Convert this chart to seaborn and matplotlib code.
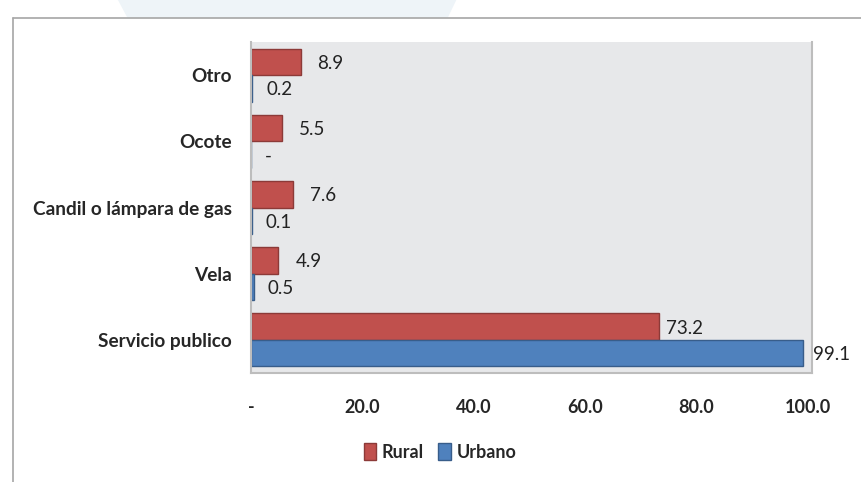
import matplotlib
matplotlib.use("Agg")
import matplotlib.pyplot as plt
import seaborn as sns
import pandas as pd
from matplotlib.patches import Rectangle, Polygon

# data
categories = ["Otro", "Ocote", "Candil o lámpara de gas", "Vela", "Servicio publico"]
rural = [8.9, 5.5, 7.6, 4.9, 73.2]
urbano = [0.2, 0.0, 0.1, 0.5, 99.1]
series = ["Rural", "Urbano"]
x_ticks = [0, 20, 40, 60, 80, 100]
x_tick_labels = ["-", "20.0", "40.0", "60.0", "80.0", "100.0"]

colors = {"Rural": "#C0504D", "Urbano": "#4F81BD"}
edges = {"Rural": "#8C3A38", "Urbano": "#385D8A"}

df = pd.DataFrame({
    "categoria": categories * 2,
    "serie": ["Rural"] * len(categories) + ["Urbano"] * len(categories),
    "valor": rural + urbano,
})

sns.set_style("white")
plt.rcParams["font.family"] = ["Lato", "DejaVu Sans"]

fig = plt.figure(figsize=(8.61, 4.82), dpi=100)
ax = fig.add_axes([0.2915, 0.226, 0.652, 0.687])

sns.barplot(data=df, y="categoria", x="valor", hue="serie", order=categories,
            hue_order=series, palette=colors, orient="h", width=0.8,
            saturation=1, legend=False, ax=ax)

for cont, name in zip(ax.containers, series):
    for bar in cont:
        bar.set_edgecolor(edges[name])
        bar.set_linewidth(1.0)

# data labels
label_offsets = {"Rural": [17, 17, 17, 17, 7], "Urbano": [14, 14, 14, 14, 10]}
for cont, name in zip(ax.containers, series):
    vals = rural if name == "Rural" else urbano
    for bar, v, off in zip(cont, vals, label_offsets[name]):
        txt = "-" if v == 0 else f"{v:.1f}"
        ax.annotate(txt, (bar.get_width(), bar.get_y() + bar.get_height() / 2),
                    xytext=(off * 0.72, -1), textcoords="offset points",
                    ha="left", va="center", fontsize=13.5, color="#222222",
                    annotation_clip=False)

ax.set_facecolor("#E7E8EA")
ax.set_xlim(0, 100.8)
ax.set_ylim(4.5, -0.5)
ax.set_xticks(x_ticks)
ax.set_xticklabels(x_tick_labels, fontweight="bold", fontsize=13)
ax.tick_params(axis="x", length=0, pad=19)
ax.tick_params(axis="y", length=0, pad=14, labelsize=13.7)
for t in ax.get_yticklabels():
    t.set_fontweight("bold")
ax.set_xlabel("")
ax.set_ylabel("")
ax.spines["top"].set_visible(False)
for s in ["left", "bottom", "right"]:
    ax.spines[s].set_color("#BDBDBD")
    ax.spines[s].set_linewidth(1.5)

# legend
handles = [Rectangle((0, 0), 1, 1, facecolor=colors[s], edgecolor=edges[s]) for s in series]
fig.legend(handles, series, loc="center", bbox_to_anchor=(0.511, 0.062), ncol=2,
           frameon=False, handlelength=0.7, handleheight=1.0, handletextpad=0.3,
           columnspacing=0.8, prop={"weight": "bold", "size": 13})

# outer frame and faint header decoration
fig.patches.append(Polygon([(0.137, 1.0), (0.53, 1.0), (0.52, 0.963), (0.148, 0.963)],
                           closed=True, transform=fig.transFigure,
                           facecolor="#EEF4F8", edgecolor="none", zorder=0))
fig.add_artist(plt.Line2D([0.015, 1.0], [0.963, 0.963], color="#A6A6A6", lw=1.2))
fig.add_artist(plt.Line2D([0.015, 0.015], [0.0, 0.963], color="#A6A6A6", lw=1.2))

fig.savefig("out.png", dpi=100)
